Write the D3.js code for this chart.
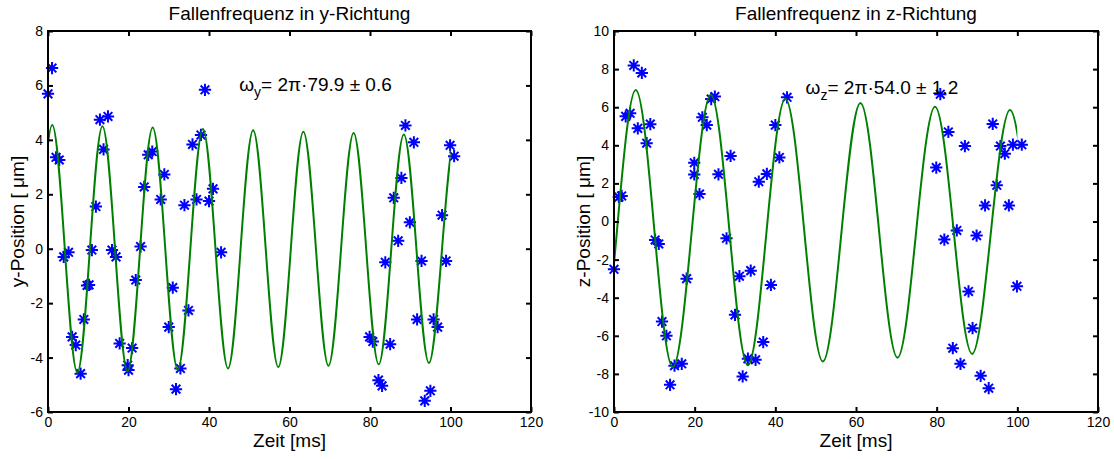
<!DOCTYPE html>
<html>
<head>
<meta charset="utf-8">
<script src="https://cdn.jsdelivr.net/npm/d3@7"></script>
<style>
  body { margin: 0; background: #fff; }
  text { font-family: "Liberation Sans", Arial, Helvetica, sans-serif; }
</style>
</head>
<body>
<div class="canvas"></div>
<script>
// tick labels
const xTicks = [0, 20, 40, 60, 80, 100, 120];
const yTicksLeft = [-6, -4, -2, 0, 2, 4, 6, 8];
const yTicksRight = [-10, -8, -6, -4, -2, 0, 2, 4, 6, 8, 10];

// measured positions, y direction
const yTime = [0, 1, 2, 2.8, 3.9, 5.1, 6, 6.9, 8.1, 8.9, 9.7, 10.2, 10.9, 11.9, 12.9, 13.8, 14.9, 15.9, 16.9, 17.8,
  19.8, 20, 20.9, 21.8, 23, 23.9, 24.9, 25.9, 28, 28.9, 30, 31, 31.8, 32.9, 33.9, 34.9, 35.9, 36.9, 38, 39,
  40, 41, 43, 79.9, 80.7, 82.1, 83, 83.8, 85, 85.9, 87, 87.8, 88.8, 89.9, 90.9, 91.7, 92.8, 93.6, 95, 95.8,
  96.8, 97.9, 98.9, 99.9, 100.9];
const yPos = [5.69, 6.64, 3.36, 3.26, -0.3, -0.13, -3.24, -3.54, -4.59, -2.6, -1.35, -1.33, -0.05, 1.55, 4.74, 3.65, 4.86, -0.05, -0.3, -3.48,
  -4.28, -4.46, -3.65, -1.15, 0.08, 2.27, 3.45, 3.57, 1.81, 2.73, -2.88, -1.43, -5.16, -4.4, 1.6, -2.27, 3.83, 1.81, 4.18, 5.84,
  1.75, 2.2, -0.13, -3.24, -3.41, -4.83, -5.04, -0.5, -3.51, 1.87, 0.29, 2.6, 4.53, 0.97, 3.91, -2.6, -0.45, -5.59, -5.22, -2.6,
  -2.88, 1.23, -0.45, 3.8, 3.4];

// fit curve, y direction (extrema and crossings, drawn for 0..100 ms)
const yFitT = [-2.07, 1.05, 4.17, 7.29, 10.41, 13.53, 16.65, 19.77, 22.89, 26.01, 29.13, 32.25, 35.37, 38.49, 41.61, 44.73, 47.85,
  50.97, 54.09, 57.21, 60.33, 63.45, 66.57, 69.69, 72.81, 75.93, 79.05, 82.17, 85.29, 88.41, 91.53, 94.65, 97.9, 101.2, 104.3];
const yFitV = [0, 4.55, 0, -4.55, 0, 4.5, 0, -4.5, 0, 4.45, 0, -4.45, 0, 4.4, 0, -4.4, 0,
  4.35, 0, -4.35, 0, 4.3, 0, -4.3, 0, 4.25, 0, -4.25, 0, 4.2, 0, -4.2, 0, 4.15, 0];

// measured positions, z direction
const zTime = [0, 1.2, 1.9, 2.9, 4, 4.9, 5.9, 6.9, 8.1, 9, 10.2, 11.1, 11.9, 13, 13.9, 15, 16.8, 18, 19.9, 19.9,
  21.2, 21.9, 23, 24.1, 25, 25.9, 27.9, 28.9, 30, 31.1, 31.9, 33.2, 33.9, 35.1, 35.9, 37, 37.9, 38.9, 40, 41,
  42.9, 79.9, 80.9, 81.9, 82.9, 84, 85, 85.9, 87, 87.9, 88.9, 89.9, 90.9, 92, 92.9, 93.9, 94.9, 95.8, 96.9, 97.9,
  98.9, 99.9, 101.1];
const zPos = [-2.51, 1.28, 1.34, 5.52, 5.68, 8.19, 4.89, 7.8, 4.11, 5.11, -0.97, -1.18, -5.25, -6.0, -8.57, -7.57, -7.47, -3.0, 3.08, 2.47,
  1.44, 5.47, 5.06, 6.43, 6.56, 2.48, -0.88, 3.44, -4.9, -2.87, -8.13, -7.2, -2.58, -7.26, 2.09, -6.33, 2.5, -3.33, 5.06, 3.36,
  6.52, 2.83, 6.68, -0.95, 4.7, -6.65, -0.47, -7.47, 3.96, -3.67, -5.6, -0.74, -8.1, 0.84, -8.75, 5.12, 1.9, 3.96, 3.56, 0.84,
  4.03, -3.4, 4.03];

// fit curve, z direction
const zFitT = [-8.55, -3.9, 0.75, 5.4, 10.0, 14.6, 19.3, 24.0, 28.6, 33.2, 37.85, 42.5, 47.15, 51.8, 56.45, 61.1, 65.7, 70.3,
  74.95, 79.6, 84.2, 88.8, 93.5, 98.2, 102.85];
const zFitV = [-0.45, -7.8, -0.45, 6.9, -0.45, -7.65, -0.45, 6.65, -0.45, -7.55, -0.45, 6.45, -0.45, -7.35, -0.45, 6.22, -0.45, -7.15,
  -0.45, 6.03, -0.45, -6.95, -0.45, 5.85, -0.45];

const width = 1114, height = 459;

const svg = d3.select('.canvas')
    .append('svg')
    .attr('width', width)
    .attr('height', height)
    .style('display', 'block');

svg.append('rect').attr('width', width).attr('height', height).attr('fill', '#fff');
const defs = svg.append('defs');

// matlab style '*' marker: plus and cross together
const star = {
    draw(ctx, size) {
        const r = Math.sqrt(size) / 2;
        const d = r * Math.SQRT1_2;
        ctx.moveTo(-r, 0); ctx.lineTo(r, 0);
        ctx.moveTo(0, -r); ctx.lineTo(0, r);
        ctx.moveTo(-d, -d); ctx.lineTo(d, d);
        ctx.moveTo(-d, d); ctx.lineTo(d, -d);
    }
};

const panels = [
    { id: 'py', title: 'Fallenfrequenz in y-Richtung', ylabel: 'y-Position [ μm]', sub: 'y', note: '= 2π·79.9 ± 0.6',
      t: yTime, v: yPos, fitT: yFitT, fitV: yFitV, yDomain: [-6, 8], yTicks: yTicksLeft, noteAt: [48, 6],
      left: 48, right: 531, top: 31, bottom: 412 },
    { id: 'pz', title: 'Fallenfrequenz in z-Richtung', ylabel: 'z-Position [ μm]', sub: 'z', note: '= 2π·54.0 ± 1.2',
      t: zTime, v: zPos, fitT: zFitT, fitV: zFitV, yDomain: [-10, 10], yTicks: yTicksRight, noteAt: [48, 7],
      left: 614, right: 1098, top: 31, bottom: 412 }
];

panels.forEach(p => {
    const x = d3.scaleLinear().domain([0, 120]).range([p.left, p.right]);
    const y = d3.scaleLinear().domain(p.yDomain).range([p.bottom, p.top]);
    const g = svg.append('g');

    // fit is only shown from 0 to 100 ms
    defs.append('clipPath').attr('id', 'clip-' + p.id)
        .append('rect')
        .attr('x', x(0)).attr('y', p.top)
        .attr('width', x(100) - x(0)).attr('height', p.bottom - p.top);

    // data points
    g.selectAll('path.pt')
        .data(d3.zip(p.t, p.v))
        .join('path')
            .attr('class', 'pt')
            .attr('transform', d => `translate(${x(d[0])},${y(d[1])})`)
            .attr('d', d3.symbol(star, 150))
            .attr('fill', 'none')
            .attr('stroke', '#0000ff')
            .attr('stroke-width', 2);

    // fit line
    const line = d3.line()
        .x(d => x(d[0]))
        .y(d => y(d[1]))
        .curve(d3.curveNatural);

    g.append('path')
        .datum(d3.zip(p.fitT, p.fitV))
        .attr('d', line)
        .attr('clip-path', `url(#clip-${p.id})`)
        .attr('fill', 'none')
        .attr('stroke', '#008000')
        .attr('stroke-width', 2);

    // axes, ticks inside on all four sides
    const axes = [
        [d3.axisBottom(x).tickValues(xTicks).tickPadding(5).tickFormat(d => d), `translate(0,${p.bottom})`],
        [d3.axisTop(x).tickValues(xTicks).tickFormat(''), `translate(0,${p.top})`],
        [d3.axisLeft(y).tickValues(p.yTicks).tickPadding(5).tickFormat(d => String(d)), `translate(${p.left},0)`],
        [d3.axisRight(y).tickValues(p.yTicks).tickFormat(''), `translate(${p.right},0)`]
    ];
    axes.forEach(([ax, tr]) => {
        const a = g.append('g')
            .attr('transform', tr)
            .call(ax.tickSizeInner(-5).tickSizeOuter(0));
        a.select('.domain').remove();
        a.selectAll('line').attr('stroke', '#000').attr('stroke-width', 2);
        a.attr('font-size', 14).attr('font-family', '"Liberation Sans", Arial, sans-serif');
        a.selectAll('text').attr('fill', '#000');
    });

    g.append('rect')
        .attr('x', p.left)
        .attr('y', p.top)
        .attr('width', p.right - p.left)
        .attr('height', p.bottom - p.top)
        .attr('fill', 'none')
        .attr('stroke', '#000')
        .attr('stroke-width', 2);

    // texts
    const cx = (p.left + p.right) / 2;
    g.append('text')
        .attr('x', cx).attr('y', 20)
        .attr('text-anchor', 'middle')
        .attr('font-size', 19)
        .text(p.title);

    g.append('text')
        .attr('x', cx).attr('y', 447)
        .attr('text-anchor', 'middle')
        .attr('font-size', 19)
        .text('Zeit [ms]');

    g.append('text')
        .attr('transform', `translate(${p.left - 24},${(p.top + p.bottom) / 2}) rotate(-90)`)
        .attr('text-anchor', 'middle')
        .attr('font-size', 19)
        .text(p.ylabel);

    const note = g.append('text')
        .attr('x', x(p.noteAt[0]) - 2)
        .attr('y', y(p.noteAt[1]) + 6)
        .attr('font-size', 19);
    note.append('tspan').text('ω');
    note.append('tspan').attr('dy', 6).attr('font-size', 14).text(p.sub);
    note.append('tspan').attr('dy', -6).text(p.note);
});
</script>
</body>
</html>
